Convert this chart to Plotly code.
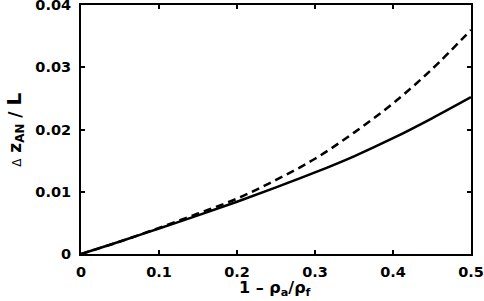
import plotly.graph_objects as go

x_vals = [0, 0.05, 0.1, 0.15, 0.2, 0.25, 0.3, 0.35, 0.4, 0.45, 0.5]
solid_vals = [0, 0.0020, 0.0041, 0.0062, 0.0084, 0.0107, 0.0131, 0.0157, 0.0186, 0.0218, 0.0252]
dashed_vals = [0, 0.0020, 0.0042, 0.0065, 0.0089, 0.0119, 0.0153, 0.0195, 0.0242, 0.0297, 0.0360]

x_ticks = [0, 0.1, 0.2, 0.3, 0.4, 0.5]
x_ticklabels = ["0", "0.1", "0.2", "0.3", "0.4", "0.5"]
y_ticks = [0, 0.01, 0.02, 0.03, 0.04]
y_ticklabels = ["0", "0.01", "0.02", "0.03", "0.04"]
x_title = "1 – ρ<sub>a</sub>/ρ<sub>f</sub>"
y_title = "<span style='font-size:12px;font-weight:normal'>Δ</span> z<sub>AN</sub> / <span style='font-size:20px'>L</span>"

fig = go.Figure()
fig.add_trace(go.Scatter(x=x_vals, y=dashed_vals, mode="lines",
                         line=dict(color="black", width=2.5, dash="8px,5px"),
                         line_shape="spline", showlegend=False))
fig.add_trace(go.Scatter(x=x_vals, y=solid_vals, mode="lines",
                         line=dict(color="black", width=2.5),
                         line_shape="spline", showlegend=False))

font_main = "DejaVu Sans"
fig.update_layout(
    width=484, height=301,
    margin=dict(l=81, r=13, t=5, b=47),
    plot_bgcolor="white", paper_bgcolor="white",
    font=dict(family=font_main, size=14, color="black"),
    xaxis=dict(range=[0, 0.5], tickvals=x_ticks, ticktext=x_ticklabels,
               ticks="inside", ticklen=4, tickwidth=1.5, tickcolor="black",
               showline=True, linewidth=2, linecolor="black", mirror="ticks",
               showgrid=False, zeroline=False, automargin=False,
               ticklabelstandoff=4, ticklabeloverflow="allow",
               tickfont=dict(family=font_main, size=14.5, weight="bold")),
    yaxis=dict(range=[0, 0.04], tickvals=y_ticks, ticktext=y_ticklabels,
               ticks="inside", ticklen=4, tickwidth=1.5, tickcolor="black",
               showline=True, linewidth=2, linecolor="black", mirror="ticks",
               showgrid=False, zeroline=False, automargin=False,
               ticklabelstandoff=5, ticklabeloverflow="allow",
               tickfont=dict(family=font_main, size=14.5, weight="bold")),
    annotations=[
        dict(text=x_title, xref="paper", yref="paper", x=0.498, y=-0.139,
             xanchor="center", yanchor="middle", showarrow=False,
             font=dict(family=font_main, size=16, weight="bold")),
        dict(text=y_title, xref="paper", yref="paper", x=-0.171, y=0.5,
             xanchor="center", yanchor="middle", showarrow=False, textangle=-90,
             font=dict(family=font_main, size=17, weight="bold")),
    ],
)

fig.write_html("out.html", config={"displayModeBar": False},
               post_script="document.body.style.margin='0px';")
